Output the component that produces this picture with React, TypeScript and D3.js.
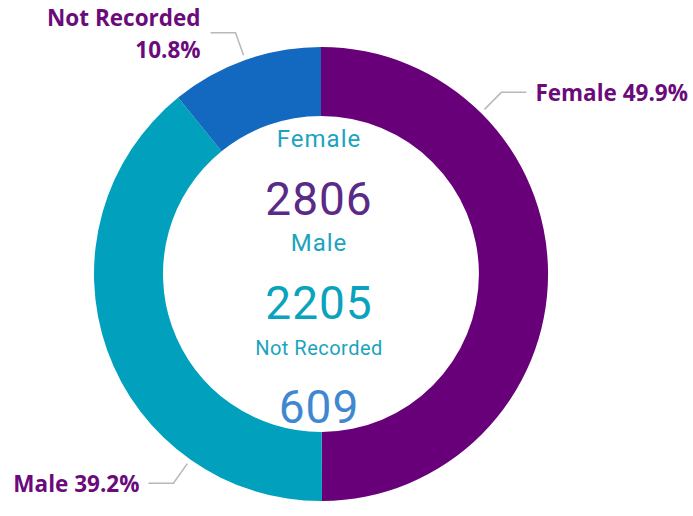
import React from 'react';
import * as d3 from 'd3';

const categories = ['Female', 'Male', 'Not Recorded'];
const counts = [2806, 2205, 609];
const sliceColors = ['#680079', '#01A1BE', '#1269BF'];
const centerValueColors = ['#5A2A86', '#0AA3BD', '#3F88D0'];
// angle (degrees, clockwise from top) where each leader line leaves the ring
const labelAngles = [44.8, 215.2, 340.5];

export default function App() {
  const width = 693;
  const height = 516;
  const cx = 321;
  const cy = 274;
  const outerR = 227;
  const innerR = 158;

  const total = d3.sum(counts);
  const pie = d3.pie<number>().sort(null).value(d => d);
  const arcs = pie(counts);
  const arcGen = d3.arc<d3.PieArcDatum<number>>().innerRadius(innerR).outerRadius(outerR);
  const pct = d3.format('.1%');
  const labelFont = "'Open Sans', 'Noto Sans', sans-serif";

  return (
    <svg
      width={width}
      height={height}
      style={{ position: 'absolute', left: 0, top: 0, background: '#fff' }}
    >
      <g transform={`translate(${cx},${cy})`}>
        {arcs.map((a, i) => (
          <path key={categories[i]} d={arcGen(a) || ''} fill={sliceColors[i]} />
        ))}

        {/* leader lines + outside labels */}
        {arcs.map((a, i) => {
          const ang = (labelAngles[i] * Math.PI) / 180;
          const [x0, y0] = d3.pointRadial(ang, outerR + 5);
          const [x1, y1] = d3.pointRadial(ang, outerR + 29);
          const right = x1 > 0;
          const x2 = x1 + (right ? 25 : -25);
          const tx = x2 + (right ? 9 : -9);
          const anchor = right ? 'start' : 'end';
          const name = categories[i];
          const p = pct(counts[i] / total);
          const twoLine = name === 'Not Recorded';
          return (
            <g key={'lbl' + name}>
              <polyline
                points={`${x0},${y0} ${x1},${y1} ${x2},${y1}`}
                fill="none"
                stroke="#B8B8B8"
                strokeWidth={1.5}
              />
              <text
                textAnchor={anchor}
                fill="#6B0A7B"
                fontFamily={labelFont}
                fontWeight={700}
                fontSize={22.5}
              >
                {twoLine ? (
                  <>
                    <tspan x={tx - 1} y={y1 - 7}>{name}</tspan>
                    <tspan x={tx - 1} y={y1 + 25}>{p}</tspan>
                  </>
                ) : (
                  <tspan x={tx} y={y1 + 9}>{`${name} ${p}`}</tspan>
                )}
              </text>
            </g>
          );
        })}

        {/* center card */}
        {categories.map((c, i) => (
          <g key={'c' + c}>
            <text
              x={-2}
              y={-127 + i * 104}
              textAnchor="middle"
              fill="#1BA3BF"
              fontFamily="Roboto, sans-serif"
              fontSize={c === 'Not Recorded' ? 20 : 24}
              letterSpacing={c === 'Not Recorded' ? 0.5 : 1}
            >
              {c}
            </text>
            <text
              x={-2}
              y={-59 + i * 104}
              textAnchor="middle"
              fill={centerValueColors[i]}
              fontFamily="Roboto, sans-serif"
              fontSize={46}
              letterSpacing={1}
            >
              {counts[i]}
            </text>
          </g>
        ))}
      </g>
    </svg>
  );
}
